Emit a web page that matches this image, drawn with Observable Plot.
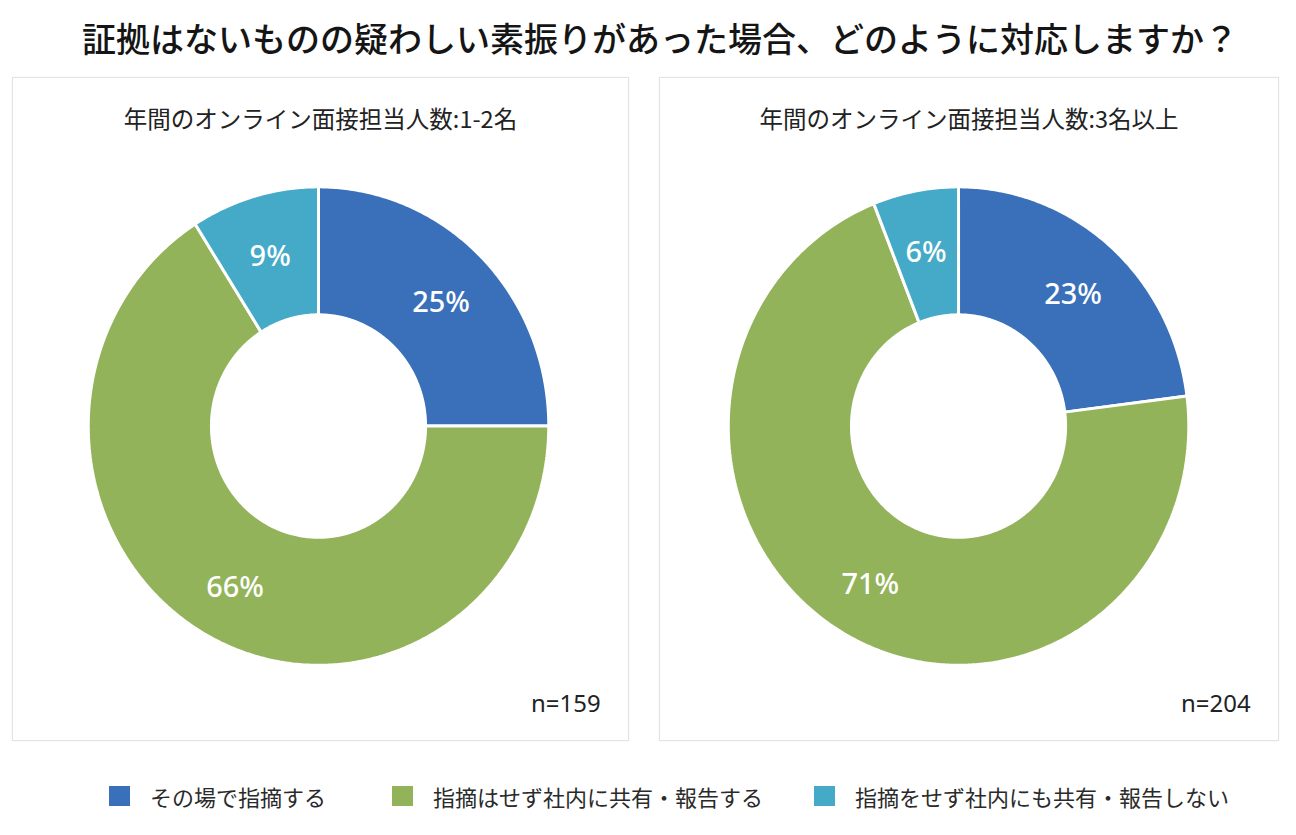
<!DOCTYPE html>
<html>
<head>
<meta charset="utf-8">
<script src="https://cdn.jsdelivr.net/npm/d3@7"></script>
<script src="https://cdn.jsdelivr.net/npm/@observablehq/plot@0.6"></script>
<style>
  html, body { margin: 0; padding: 0; background: #ffffff; }
  body { font-family: 'Noto Sans CJK JP', 'Noto Sans', sans-serif; color: #222; }
  #root { position: relative; width: 1296px; height: 835px; overflow: hidden; }
  #title { position: absolute; left: 12px; width: 1296px; top: 13px; text-align: center;
           font-size: 34px; font-weight: 500; line-height: 50px; color: #151515; white-space: nowrap; }
  .panel { position: absolute; top: 77px; height: 664px; box-sizing: border-box;
           border: 1px solid #e3e3e3; background: #fff; box-shadow: 0 0 2px rgba(0,0,0,0.05); }
  .subtitle { position: absolute; left: 0; right: 0; top: 24px; text-align: center;
              font-size: 23.5px; line-height: 32px; color: #222; white-space: nowrap; }
  .chart { position: absolute; left: -1px; top: 59px; }
  .legend-item { position: absolute; top: 781px; height: 30px; display: flex; align-items: center;
                 font-size: 22px; color: #2a2a2a; white-space: nowrap; }
  .swatch { width: 21px; height: 20px; margin-right: 20px; flex: none; }
</style>
</head>
<body>
<div id="root">
  <div id="title"></div>
</div>
<script>
// ---- data ----
const chartTitle = "証拠はないものの疑わしい素振りがあった場合、どのように対応しますか？";
const categories = ["その場で指摘する", "指摘はせず社内に共有・報告する", "指摘をせず社内にも共有・報告しない"];
const colors = ["#3a70b9", "#92b35a", "#45aac7"];
const panelTitles = ["年間のオンライン面接担当人数:1-2名", "年間のオンライン面接担当人数:3名以上"];
const valuesSmallTeam = [25, 66, 9];
const valuesLargeTeam = [23, 71, 6];
const sampleSizes = ["n=159", "n=204"];

// ---- layout ----
const root = document.getElementById("root");
document.getElementById("title").textContent = chartTitle;

const panelLayout = [
  {left: 12, width: 617, cx: 307},
  {left: 659, width: 620, cx: 300}
];
const legendLeft = [109, 392, 814];

function donut(values, n, cx, W) {
  const H = 600, cy = 289.5, Rx = 231, Ry = 240, k = 0.465;
  const total = d3.sum(values);
  let acc = 0;
  const pts = [], labels = [];
  values.forEach((v, i) => {
    const a0 = acc / total * 2 * Math.PI; acc += v;
    const a1 = acc / total * 2 * Math.PI;
    const steps = Math.max(2, Math.ceil((a1 - a0) / 0.01));
    const ring = [];
    for (let s = 0; s <= steps; s++) { const a = a0 + (a1 - a0) * s / steps; ring.push([Math.sin(a), Math.cos(a)]); }
    for (let s = steps; s >= 0; s--) { const a = a0 + (a1 - a0) * s / steps; ring.push([k * Math.sin(a), k * Math.cos(a)]); }
    ring.push(ring[0]);
    ring.forEach(([x, y]) => pts.push({x, y, cat: categories[i]}));
    const m = (a0 + a1) / 2, r = (1 + k) / 2 + 0.02;
    labels.push({x: r * Math.sin(m), y: r * Math.cos(m), label: v + "%"});
  });
  return Plot.plot({
    width: W, height: H, margin: 0,
    style: {fontFamily: "'Noto Sans', 'Noto Sans CJK JP', sans-serif", background: "transparent", overflow: "visible"},
    x: {domain: [-cx / Rx, (W - cx) / Rx], axis: null},
    y: {domain: [-(H - cy) / Ry, cy / Ry], axis: null},
    color: {domain: categories, range: colors},
    marks: [
      Plot.line(pts, {x: "x", y: "y", z: "cat", fill: "cat", stroke: "white", strokeWidth: 3, strokeLinejoin: "miter"}),
      Plot.text(labels, {x: "x", y: "y", text: "label", fill: "white", fontSize: 29, fontWeight: 500, dy: 4}),
      Plot.text([n], {text: d => d, frameAnchor: "bottom-right", textAnchor: "end", lineAnchor: "middle",
                      dx: -27, dy: -31, fontSize: 24, fill: "#222"})
    ]
  });
}

[valuesSmallTeam, valuesLargeTeam].forEach((vals, i) => {
  const L = panelLayout[i];
  const panel = document.createElement("div");
  panel.className = "panel";
  panel.style.left = L.left + "px";
  panel.style.width = L.width + "px";
  const sub = document.createElement("div");
  sub.className = "subtitle";
  sub.textContent = panelTitles[i];
  panel.appendChild(sub);
  const chart = donut(vals, sampleSizes[i], L.cx, L.width);
  chart.classList.add("chart");
  panel.appendChild(chart);
  root.appendChild(panel);
});

categories.forEach((c, i) => {
  const item = document.createElement("div");
  item.className = "legend-item";
  item.style.left = legendLeft[i] + "px";
  const sw = document.createElement("span");
  sw.className = "swatch";
  sw.style.background = colors[i];
  const tx = document.createElement("span");
  tx.textContent = c;
  item.appendChild(sw);
  item.appendChild(tx);
  root.appendChild(item);
});
</script>
</body>
</html>
